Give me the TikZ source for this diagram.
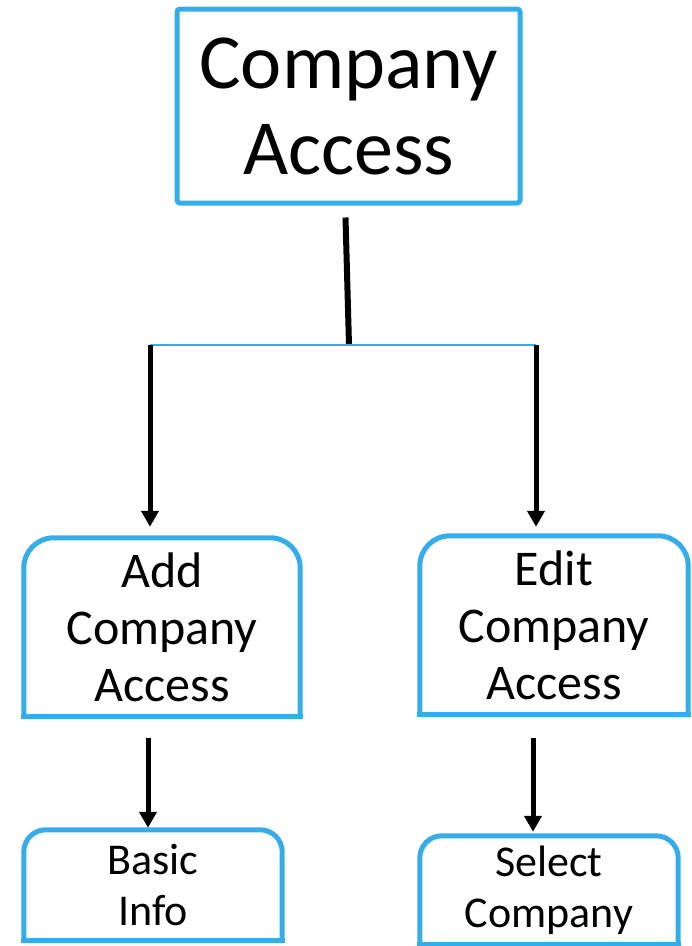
\documentclass[tikz,border=0pt]{standalone}
\usepackage{fontspec}
\setmainfont{Carlito}
\usetikzlibrary{arrows.meta}

\definecolor{frameblue}{HTML}{35ADEA}

\tikzset{
    boxline/.style={draw=frameblue, line width=5pt},
    arrowline/.style={draw=black, line width=5pt, -{Triangle[length=16pt,width=17pt]}},
}
\newcommand{\tabframe}[2]{%
    \draw[boxline, rounded corners=#2] (#1.south west) -- (#1.north west) -- (#1.north east) -- (#1.south east);
    \draw[boxline, line cap=rect] (#1.south west) -- (#1.south east);
}

\begin{document}
\begin{tikzpicture}[x=1pt,y=-1pt]
    \useasboundingbox (0,0) rectangle (692,946);

    \node[boxline, rounded corners=3pt, minimum width=343pt, minimum height=194pt, align=center,
          font=\fontsize{78}{86}\selectfont] (top) at (348.5,106) {\raisebox{-3pt}{Company}\\\raisebox{-3pt}{Access}};

    \node[minimum width=276pt, minimum height=178pt, align=center,
          font=\fontsize{50}{57}\selectfont] (add) at (162,627) {Add\\Company\\Access};
    \node[minimum width=268pt, minimum height=178pt, align=center,
          font=\fontsize{50}{57}\selectfont] (edit) at (554,625) {Edit\\Company\\Access};
    \node[minimum width=258pt, minimum height=110pt, align=center,
          font=\fontsize{44}{51}\selectfont] (basic) at (153,885) {Basic\\Info};
    \node[minimum width=258pt, minimum height=108pt, align=center,
          font=\fontsize{44}{51}\selectfont] (select) at (549,890) {Select\\Company};
    \tabframe{add}{30pt}
    \tabframe{edit}{30pt}
    \tabframe{basic}{22pt}
    \tabframe{select}{22pt}

    \coordinate (mid) at (349,345);
    \coordinate (left) at (150,345);
    \coordinate (right) at (536,345);

    \draw[line width=6pt] ([xshift=-3pt,yshift=-12pt]top.south) -- (mid);
    \draw[frameblue, line width=2pt] (left) -- (right);
    \draw[arrowline] (left) -- ([yshift=11pt]add.north -| left);
    \draw[arrowline] (right) -- ([yshift=9pt]edit.north -| right);
    \draw[arrowline] ([yshift=-22pt]add.south -| 148,0) -- ([yshift=2pt]basic.north -| 148,0);
    \draw[arrowline] ([yshift=-24pt]edit.south -| 533,0) -- ([yshift=4pt]select.north -| 533,0);
\end{tikzpicture}
\end{document}
